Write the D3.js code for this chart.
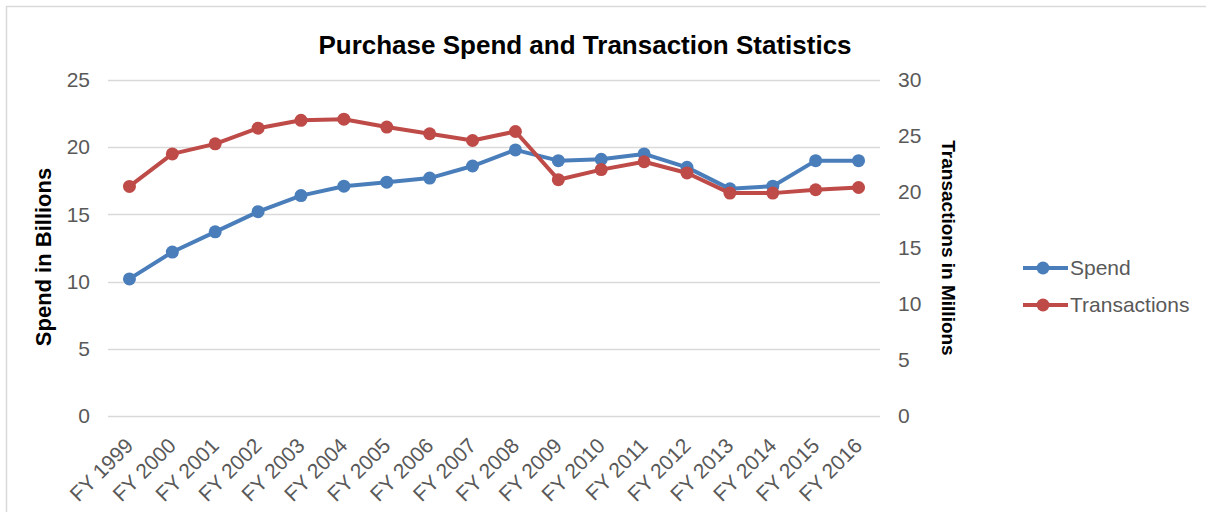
<!DOCTYPE html>
<html>
<head>
<meta charset="utf-8">
<script src="https://cdn.jsdelivr.net/npm/d3@7"></script>
<style>
  body { margin: 0; background: #fff; }
  svg { display: block; font-family: "Liberation Sans", Arial, sans-serif; }
</style>
</head>
<body>
<div id="chart"></div>
<script>
// Data
var years = ['FY 1999', 'FY 2000', 'FY 2001', 'FY 2002', 'FY 2003', 'FY 2004', 'FY 2005', 'FY 2006', 'FY 2007',
    'FY 2008', 'FY 2009', 'FY 2010', 'FY 2011', 'FY 2012', 'FY 2013', 'FY 2014', 'FY 2015', 'FY 2016'];
var spend = [10.2, 12.2, 13.7, 15.2, 16.4, 17.1, 17.4, 17.7, 18.6, 19.8, 19.0, 19.1, 19.5, 18.5, 16.9, 17.1, 19.0, 19.0];
var transactions = [20.5, 23.4, 24.3, 25.7, 26.4, 26.5, 25.8, 25.2, 24.6, 25.4, 21.1, 22.0, 22.7, 21.7, 19.9, 19.9, 20.2, 20.4];
var leftTicks = [0, 5, 10, 15, 20, 25];
var rightTicks = [0, 5, 10, 15, 20, 25, 30];

var width = 1206, height = 512;
var plot = {left: 108, right: 880, top: 80, bottom: 416};

var blue = '#4a7ebb', red = '#be4b48';
var font = '"Liberation Sans", Arial, sans-serif';

var svg = d3.select('#chart').append('svg')
    .attr('width', width)
    .attr('height', height);

// chart frame (only top and left edges fall inside the picture)
svg.append('rect')
    .attr('x', 6.5).attr('y', 6.5)
    .attr('width', width + 20).attr('height', height + 20)
    .attr('fill', '#fff')
    .attr('stroke', '#d9d9d9')
    .attr('stroke-width', 1.5);

var x = d3.scaleBand()
    .domain(years)
    .range([plot.left, plot.right]);

var yLeft = d3.scaleLinear()
    .domain([0, 25])
    .range([plot.bottom, plot.top]);

var yRight = d3.scaleLinear()
    .domain([0, 30])
    .range([plot.bottom, plot.top]);

// gridlines
svg.append('g')
    .selectAll('line')
    .data(leftTicks)
    .enter()
    .append('line')
    .attr('x1', plot.left).attr('x2', plot.right)
    .attr('y1', function(d) { return Math.round(yLeft(d)) + 0.5; })
    .attr('y2', function(d) { return Math.round(yLeft(d)) + 0.5; })
    .attr('stroke', '#d9d9d9')
    .attr('stroke-width', 1.3);

// left axis
var leftAxis = svg.append('g')
    .attr('transform', 'translate(' + plot.left + ',0)')
    .call(d3.axisLeft(yLeft).tickValues(leftTicks).tickSize(0).tickPadding(18));
leftAxis.select('.domain').remove();
leftAxis.selectAll('text')
    .attr('font-size', '21px')
    .attr('font-family', font)
    .attr('fill', '#595959');

// right axis
var rightAxis = svg.append('g')
    .attr('transform', 'translate(' + plot.right + ',0)')
    .call(d3.axisRight(yRight).tickValues(rightTicks).tickSize(0).tickPadding(18));
rightAxis.select('.domain').remove();
rightAxis.selectAll('text')
    .attr('font-size', '21px')
    .attr('font-family', font)
    .attr('fill', '#595959');

// x axis labels, rotated
var xAxis = svg.append('g')
    .attr('transform', 'translate(0,' + plot.bottom + ')')
    .call(d3.axisBottom(x).tickSize(0));
xAxis.select('.domain').remove();
xAxis.selectAll('text')
    .attr('font-size', '21px')
    .attr('font-family', font)
    .attr('fill', '#595959')
    .attr('text-anchor', 'end')
    .attr('y', 0)
    .attr('dy', 0)
    .attr('transform', 'translate(5,31) rotate(-45)');

// title
svg.append('text')
    .attr('x', 585).attr('y', 54)
    .attr('text-anchor', 'middle')
    .attr('font-size', '26px')
    .attr('font-weight', 'bold')
    .attr('fill', '#000')
    .text('Purchase Spend and Transaction Statistics');

// axis titles
svg.append('text')
    .attr('transform', 'translate(51,257) rotate(-90)')
    .attr('text-anchor', 'middle')
    .attr('font-size', '22px')
    .attr('font-weight', 'bold')
    .text('Spend in Billions');

svg.append('text')
    .attr('transform', 'translate(942,248) rotate(90)')
    .attr('text-anchor', 'middle')
    .attr('font-size', '19px')
    .attr('font-weight', 'bold')
    .text('Transactions in Millions');

function cx(d, i) { return x(years[i]) + x.bandwidth() / 2; }

var series = [
    {name: 'Spend', values: spend, scale: yLeft, color: blue},
    {name: 'Transactions', values: transactions, scale: yRight, color: red}
];

series.forEach(function(s) {
    var line = d3.line()
        .x(cx)
        .y(function(d) { return s.scale(d); });

    svg.append('path')
        .datum(s.values)
        .attr('d', line)
        .attr('fill', 'none')
        .attr('stroke', s.color)
        .attr('stroke-width', 4)
        .attr('stroke-linejoin', 'round');

    svg.append('g')
        .selectAll('circle')
        .data(s.values)
        .enter()
        .append('circle')
        .attr('cx', cx)
        .attr('cy', function(d) { return s.scale(d); })
        .attr('r', 6.5)
        .attr('fill', s.color);
});

// legend
var legend = svg.append('g')
    .selectAll('g')
    .data(series)
    .enter()
    .append('g')
    .attr('transform', function(d, i) { return 'translate(1023,' + (268 + i * 37) + ')'; });

legend.append('line')
    .attr('x1', 0).attr('x2', 45)
    .attr('stroke', function(d) { return d.color; })
    .attr('stroke-width', 4);

legend.append('circle')
    .attr('cx', 20).attr('r', 6.5)
    .attr('fill', function(d) { return d.color; });

legend.append('text')
    .attr('x', 47).attr('dy', '0.35em')
    .attr('font-size', '21px')
    .attr('font-family', font)
    .attr('fill', '#595959')
    .text(function(d) { return d.name; });
</script>
</body>
</html>
